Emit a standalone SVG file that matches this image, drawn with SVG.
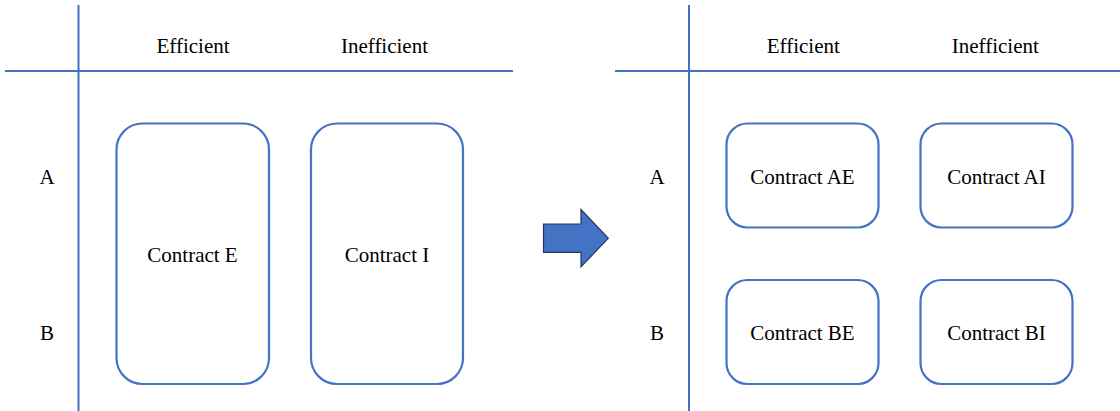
<svg xmlns="http://www.w3.org/2000/svg" width="1120" height="411" viewBox="0 0 1120 411">
<style>
.ax{stroke:#4472C4;stroke-width:2;fill:none}
.box{fill:#fff;stroke:#4472C4;stroke-width:2.2}
text{font-family:"Liberation Serif","Times New Roman",serif;font-size:21px;fill:#000;text-anchor:middle}
</style>
<rect width="1120" height="411" fill="#fff"/>
<g id="axes-left">
<line class="ax" x1="78.5" y1="5" x2="78.5" y2="411"/>
<line class="ax" x1="5" y1="71" x2="513" y2="71"/>
<text x="193" y="53">Efficient</text>
<text x="384.5" y="53">Inefficient</text>
<text x="47" y="184">A</text>
<text x="47" y="340">B</text>
</g>
<g id="contract-e">
<rect class="box" x="116.5" y="123.5" width="152.5" height="260.5" rx="26"/>
<text x="192.5" y="262">Contract E</text>
</g>
<g id="contract-i">
<rect class="box" x="311" y="123.5" width="152" height="260.5" rx="26"/>
<text x="387" y="262">Contract I</text>
</g>
<g id="arrow">
<path d="M543.5,224 H581 V209.5 L608.3,238.3 L581,266.7 V252.3 H543.5 Z" fill="#4472C4" stroke="#1F3864" stroke-width="1.2"/>
</g>
<g id="axes-right">
<line class="ax" x1="689" y1="5" x2="689" y2="411"/>
<line class="ax" x1="615" y1="71" x2="1120" y2="71"/>
<text x="803.3" y="53">Efficient</text>
<text x="995.3" y="53">Inefficient</text>
<text x="657" y="184">A</text>
<text x="657" y="340">B</text>
</g>
<g id="contract-ae">
<rect class="box" x="726.5" y="123.5" width="152" height="104" rx="21"/>
<text x="802.5" y="184">Contract AE</text>
</g>
<g id="contract-ai">
<rect class="box" x="920.5" y="123.5" width="152" height="104" rx="21"/>
<text x="996.5" y="184">Contract AI</text>
</g>
<g id="contract-be">
<rect class="box" x="726.5" y="280" width="152" height="104" rx="21"/>
<text x="802.5" y="340">Contract BE</text>
</g>
<g id="contract-bi">
<rect class="box" x="920.5" y="280" width="152" height="104" rx="21"/>
<text x="996.5" y="340">Contract BI</text>
</g>
<g id="connectors"></g>
</svg>
